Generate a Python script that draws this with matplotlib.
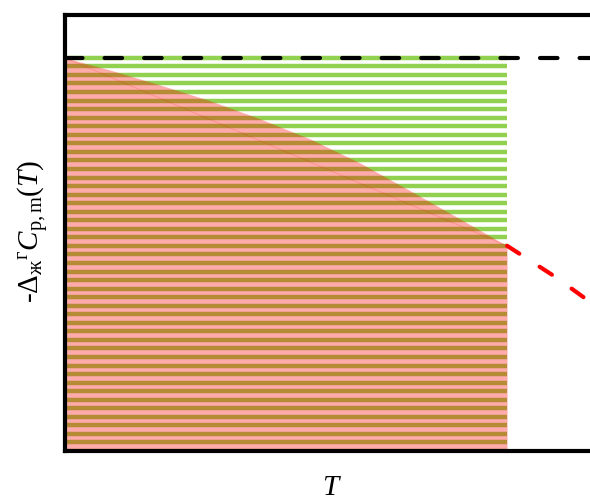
import numpy as np
import matplotlib
matplotlib.use("Agg")
from matplotlib import pyplot as plt

curveT = [0.0, 0.102, 0.215, 0.328, 0.441, 0.554, 0.667, 0.781, 0.894, 1.0]
curveCp = [1.0, 0.969, 0.931, 0.891, 0.845, 0.794, 0.733, 0.662, 0.590, 0.522]

# Extrapolated part of the curve beyond the filled range
extraT = [1.0, 1.036, 1.109, 1.188, 1.21]
extraCp = [0.522, 0.496, 0.443, 0.379, 0.362]

# Constant level (upper bound) and the striped band below it
levelCp = 1.0
nStripes = 47

GREEN = "#92D050"
RED = "#FF0000"

plt.rcParams['mathtext.fontset'] = 'custom'
plt.rcParams['mathtext.rm'] = 'Liberation Serif'
plt.rcParams['mathtext.it'] = 'Liberation Serif:italic'
plt.rcParams['font.family'] = ['Liberation Serif', 'DejaVu Serif']

fig = plt.figure(figsize=(5.9, 5.0), dpi=100)
ax = fig.add_axes([65/590, 49/500, (599-65)/590, (451-15)/500])

# Green horizontal stripes from 0 up to the constant level
stripeY = np.linspace(0, levelCp, nStripes)
ax.hlines(stripeY, curveT[0], curveT[-1], colors=GREEN, linewidth=3.2, zorder=1)

# Semi-transparent red area under the curve
ax.fill_between(curveT, 0, curveCp, color=RED, alpha=0.33, linewidth=0, zorder=2)
ax.plot([curveT[0], curveT[-1]], [curveCp[0], curveCp[-1]], color=RED, alpha=0.15, linewidth=0.7, zorder=2)

# Dashed lines: constant level and extrapolated curve
ax.plot([0, 1.25], [levelCp, levelCp], color="black", linewidth=3,
        dashes=(4.2, 5.3), dash_capstyle="round", zorder=3)
ax.plot(extraT, extraCp, color=RED, linewidth=3,
        dashes=(3.5, 5.8), dash_capstyle="round", zorder=3)

ax.set_xlim(0, 1.208)
ax.set_ylim(0, 1.109)
ax.set_xticks([])
ax.set_yticks([])
for side in ["left", "bottom", "top", "right"]:
    ax.spines[side].set_linewidth(3)

ax.set_ylabel(r'-$\Delta_{\mathrm{ж}}{}^{\mathrm{г}}C_{\mathrm{p,m}}(T)$', fontsize=21)
ax.set_xlabel(r'$T$', fontsize=21)
ax.yaxis.set_label_coords(-0.027, 0.505)
ax.xaxis.set_label_coords(0.5, -0.054)

fig.savefig("out.png", dpi=100)
